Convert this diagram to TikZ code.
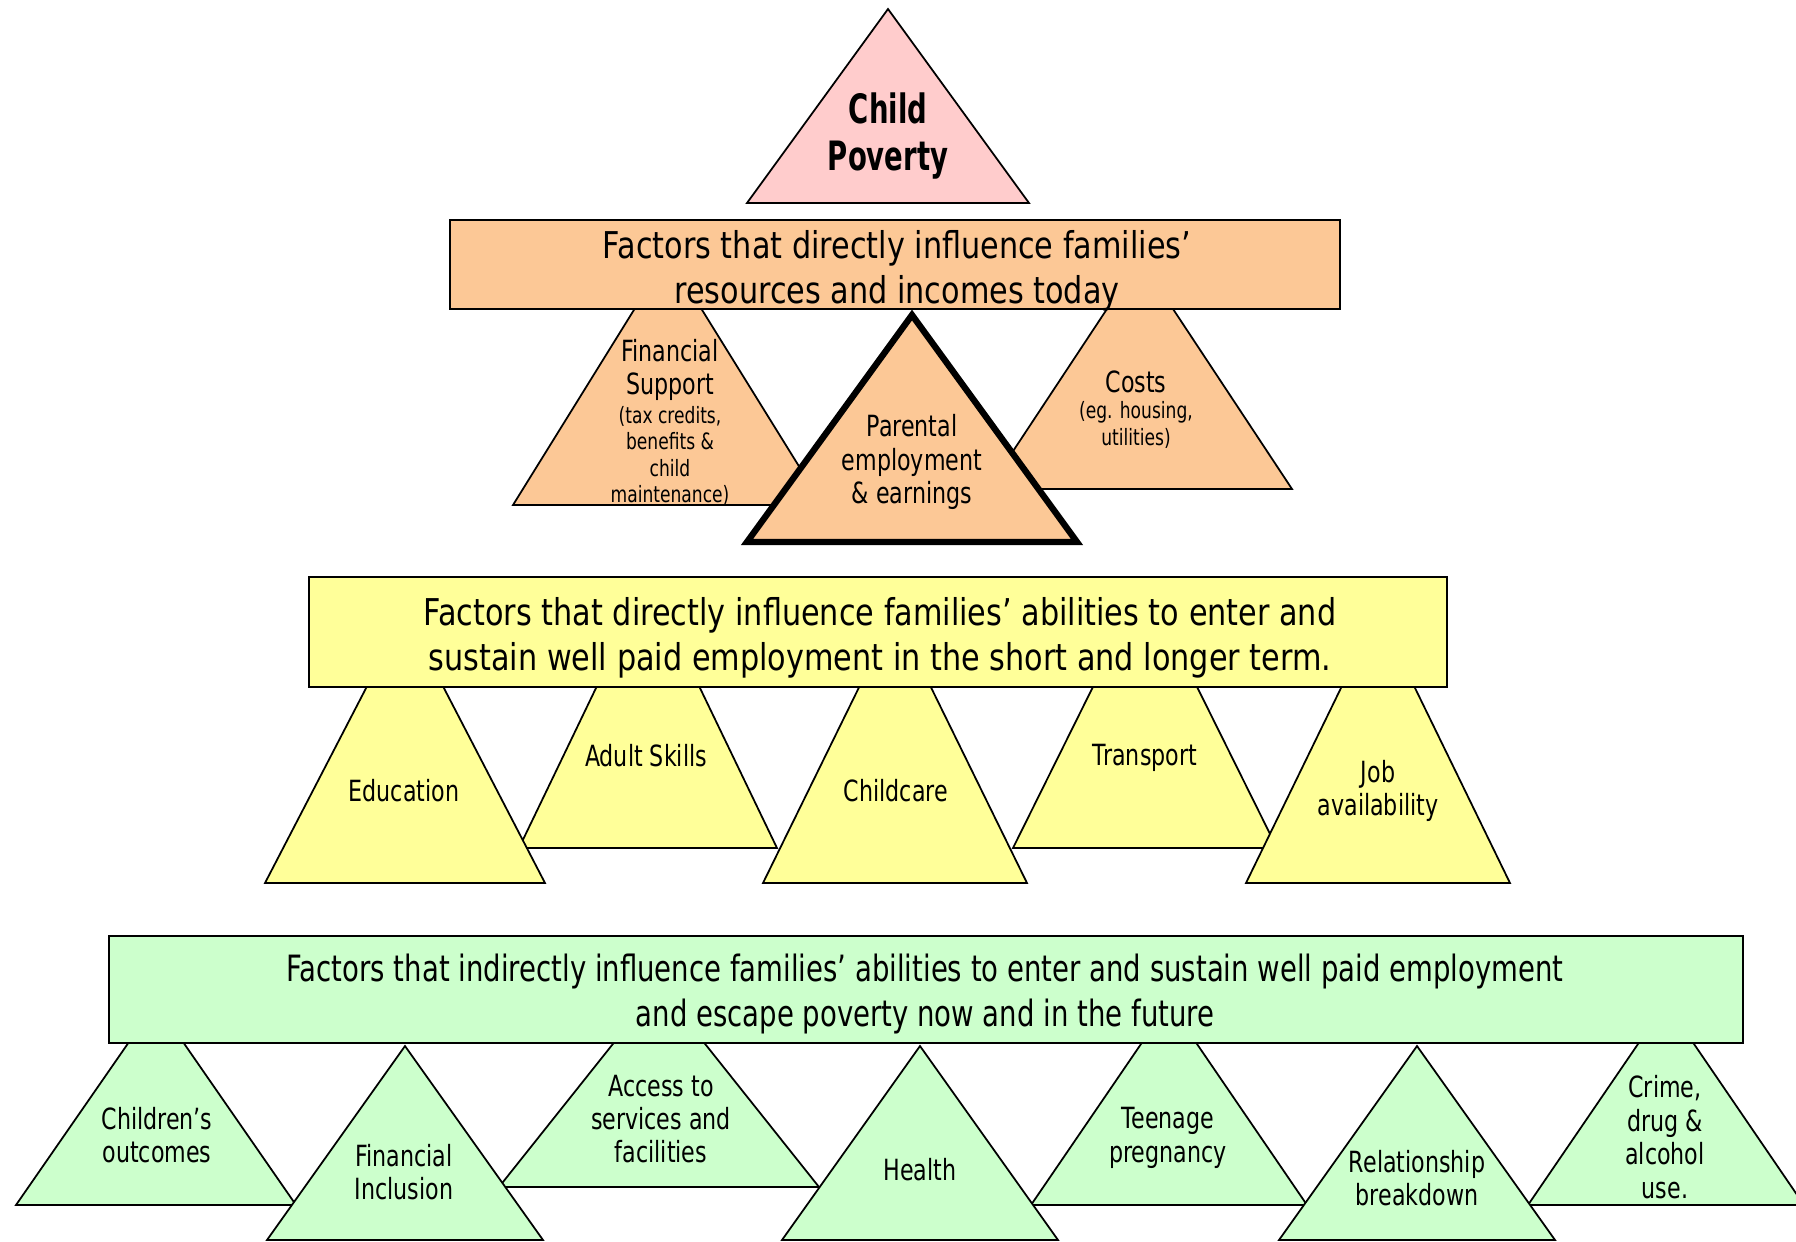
\documentclass[tikz,border=0pt]{standalone}
\usepackage{fontspec}
\setmainfont[FakeStretch=0.76]{DejaVu Sans}
\newfontfamily\widesans[FakeStretch=0.82]{DejaVu Sans}
\newfontfamily\titlesans[FakeStretch=0.68]{DejaVu Sans}
\usepackage{xcolor}
\definecolor{povpink}{HTML}{FFCCCC}
\definecolor{incorange}{HTML}{FCC896}
\definecolor{empyellow}{HTML}{FFFF99}
\definecolor{indgreen}{HTML}{CCFFCC}

\begin{document}
\begin{tikzpicture}[x=0.01cm, y=-0.01cm,
    tri/.style={draw, line width=0.5pt},
    panel/.style={draw, line width=0.8pt},
    boxtext/.style={align=center, font=\widesans\fontsize{10.5}{12.8}\selectfont},
    tritext/.style={align=center, font=\fontsize{8.3}{9.5}\selectfont},
    notetext/.style={align=center, font=\fontsize{6.4}{7.5}\selectfont}]
    \useasboundingbox (0,0) rectangle (1796,1241);

    % child poverty
    \draw[tri, fill=povpink] (888,9) -- (1029,203) -- (747,203) -- cycle;
    \node[align=center, font=\titlesans\fontsize{11.5}{13.4}\selectfont\bfseries] (poverty) at (888,136) {Child\\Poverty};

    % resources and incomes
    \foreach \cx/\ay/\by/\hw in {668/255/505/155, 1140/259/489/152} {
        \draw[tri, fill=incorange] (\cx,\ay) -- (\cx+\hw,\by) -- (\cx-\hw,\by) -- cycle;
    }
    \draw[fill=incorange, line width=1.8pt] (912,315) -- (1077,542) -- (747,542) -- cycle;
    \draw[panel, fill=incorange] (450,220) rectangle (1340,309);
    \node[boxtext] (resources) at (897,271) {Factors that directly influence families’\\resources and incomes today};
    \node[tritext] (finsupport) at (670,370) {Financial\\Support};
    \node[notetext] (finnote) at (670,456) {(tax credits,\\benefits \&\\child\\maintenance)};
    \node[tritext] (costs) at (1136,382) {Costs};
    \node[notetext] (costsnote) at (1136,425) {(eg. housing,\\utilities)};
    \node[tritext] (parental) at (912,462) {Parental\\employment\\\& earnings};

    % employment, direct
    \foreach \cx/\ay/\by/\hw in {648/580/848/129, 1145/582/848/132} {
        \draw[tri, fill=empyellow] (\cx,\ay) -- (\cx+\hw,\by) -- (\cx-\hw,\by) -- cycle;
    }
    \foreach \cx/\ay/\by/\hw in {405/613/883/140, 895/614/883/132, 1378/612/883/132} {
        \draw[tri, fill=empyellow] (\cx,\ay) -- (\cx+\hw,\by) -- (\cx-\hw,\by) -- cycle;
    }
    \draw[panel, fill=empyellow] (309,577) rectangle (1447,687);
    \node[boxtext] (direct) at (880,638) {Factors that directly influence families’ abilities to enter and\\sustain well paid employment in the short and longer term.};
    \node[tritext] (education) at (404,791) {Education};
    \node[tritext] (skills) at (646,756) {Adult Skills};
    \node[tritext] (childcare) at (896,791) {Childcare};
    \node[tritext] (transport) at (1145,758) {Transport};
    \node[tritext] (jobs) at (1378,791) {Job\\availability};

    % employment, indirect
    \foreach \cx/\ay/\by/\hw in {156/1003/1205/140, 659/986/1187/160, 1169/1003/1205/138, 1666/1003/1205/138} {
        \draw[tri, fill=indgreen] (\cx,\ay) -- (\cx+\hw,\by) -- (\cx-\hw,\by) -- cycle;
    }
    \foreach \cx/\ay/\by/\hw in {405/1046/1240/138, 920/1046/1240/138, 1417/1046/1240/138} {
        \draw[tri, fill=indgreen] (\cx,\ay) -- (\cx+\hw,\by) -- (\cx-\hw,\by) -- cycle;
    }
    \draw[panel, fill=indgreen] (109,936) rectangle (1743,1043);
    \node[align=center, font=\fontsize{10.3}{12.6}\selectfont] (indirect) at (925,994) {Factors that indirectly influence families’ abilities to enter and sustain well paid employment\\and escape poverty now and in the future};
    \node[tritext] (outcomes) at (157,1135) {Children’s\\outcomes};
    \node[tritext] (inclusion) at (404,1172) {Financial\\Inclusion};
    \node[tritext] (access) at (661,1119) {Access to\\services and\\facilities};
    \node[tritext] (health) at (920,1170) {Health};
    \node[tritext] (teenage) at (1168,1138) {Teenage\\pregnancy};
    \node[tritext] (relationship) at (1417,1178) {Relationship\\breakdown};
    \node[tritext] (crime) at (1665,1137) {Crime,\\drug \&\\alcohol\\use.};
\end{tikzpicture}
\end{document}
